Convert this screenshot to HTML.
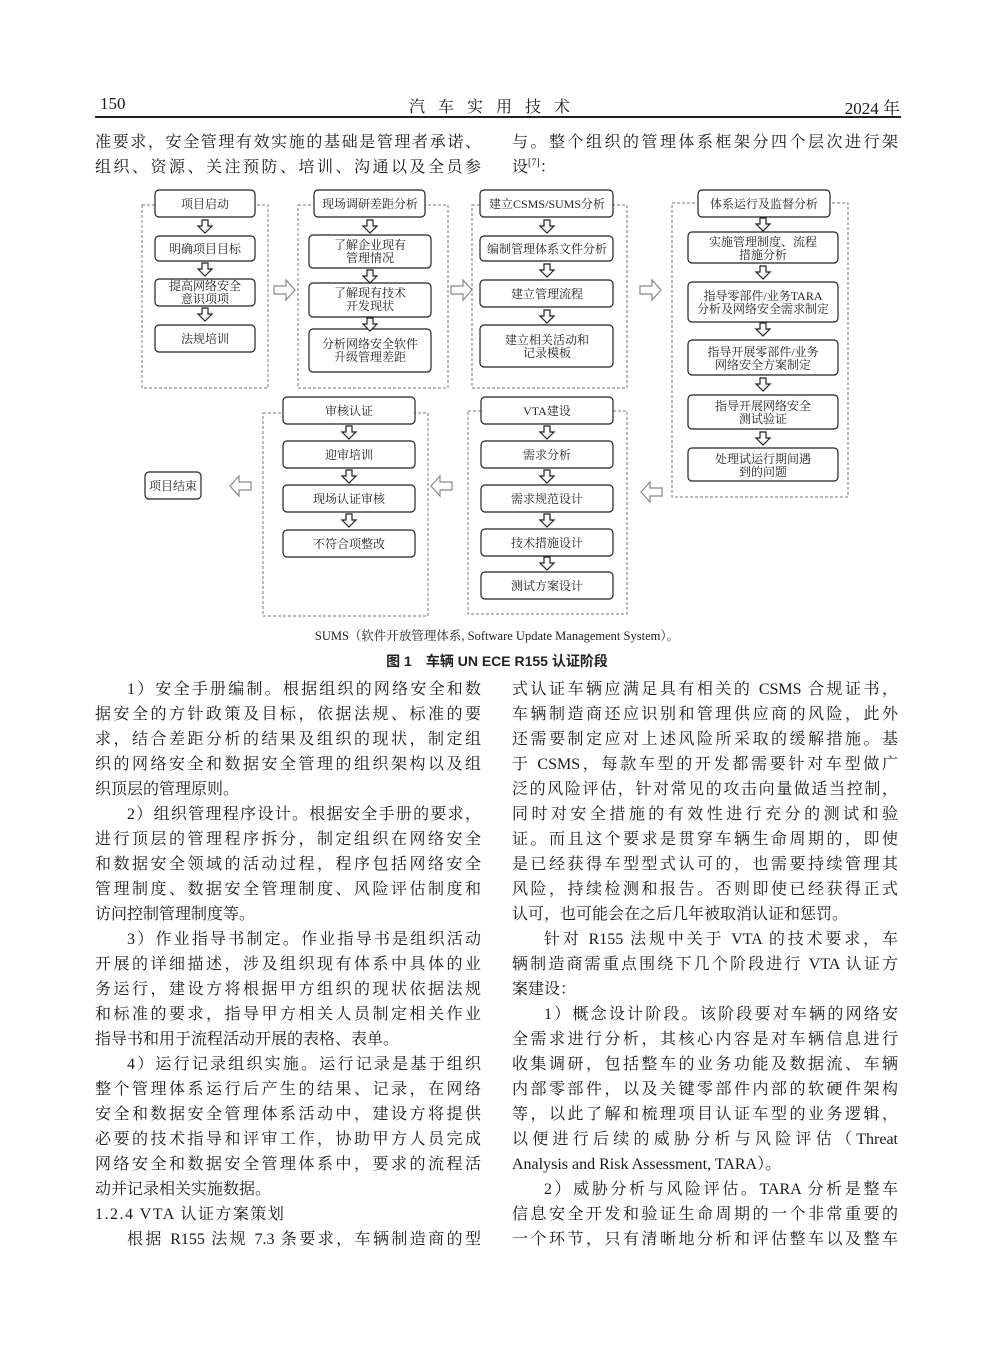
<!DOCTYPE html>
<html><head><meta charset="utf-8"><style>
body{margin:0;background:#fff;}
#p{position:relative;width:992px;height:1347px;overflow:hidden;font-family:"Liberation Serif","Noto Serif CJK SC",serif;color:#1a1a1a;}
.col{position:absolute;width:386px;font-size:16px;}
.col div{height:25px;line-height:25px;white-space:nowrap;text-align:justify;text-align-last:justify;}
.col div.l{text-align-last:left;}
.col div.i{padding-left:32px;}
.a{position:absolute;}
</style></head><body><div id="p">
<div class="a" style="left:100px;top:94px;font-size:17px;">150</div>
<div class="a" style="left:0;width:992px;top:94px;font-size:16px;text-align:center;letter-spacing:13px;">汽车实用技术</div>
<div class="a" style="left:820px;top:94px;font-size:17px;width:80px;text-align:right;">2024 年</div>
<div class="a" style="left:95px;top:116px;width:806px;height:1.5px;background:#222;"></div>

<div class="col" style="left:95px;top:130px;">
<div>准要求，安全管理有效实施的基础是管理者承诺、</div>
<div>组织、资源、关注预防、培训、沟通以及全员参</div>
</div>
<div class="col" style="left:512px;top:130px;">
<div>与。整个组织的管理体系框架分四个层次进行架</div>
<div class="l">设<sup style="font-size:10px;line-height:0">[7]</sup>：</div>
</div>

<svg class="a" style="left:0;top:0" width="992" height="680" font-family="Liberation Serif, Noto Serif CJK SC, serif" font-size="12" fill="#222">
<g fill="none" stroke="#777" stroke-dasharray="3,2" stroke-width="1">
<rect x="142" y="205" width="126" height="183"/>
<rect x="298" y="205" width="150" height="183"/>
<rect x="472" y="205" width="155" height="183"/>
<rect x="672" y="203" width="176" height="294"/>
<rect x="263" y="413" width="165" height="203"/>
<rect x="468" y="411" width="159" height="203"/>
</g>
<g fill="#fff" stroke="#222" stroke-width="1.2">
<rect x="155" y="190" width="100" height="27" rx="4"/>
<rect x="155" y="236" width="100" height="25" rx="4"/>
<rect x="155" y="279" width="100" height="27" rx="4"/>
<rect x="155" y="325" width="100" height="27" rx="4"/>
<rect x="314" y="190" width="111" height="27" rx="4"/>
<rect x="309" y="235" width="122" height="33" rx="4"/>
<rect x="309" y="283" width="122" height="34" rx="4"/>
<rect x="309" y="329" width="122" height="43" rx="4"/>
<rect x="480" y="190" width="133" height="27" rx="4"/>
<rect x="480" y="236" width="133" height="25" rx="4"/>
<rect x="480" y="280" width="133" height="27" rx="4"/>
<rect x="480" y="325" width="133" height="42" rx="4"/>
<rect x="698" y="190" width="132" height="27" rx="4"/>
<rect x="688" y="232" width="150" height="31" rx="4"/>
<rect x="688" y="282" width="150" height="40" rx="4"/>
<rect x="688" y="340" width="150" height="35" rx="4"/>
<rect x="688" y="395" width="150" height="34" rx="4"/>
<rect x="688" y="448" width="150" height="33" rx="4"/>
<rect x="283" y="397" width="132" height="27" rx="4"/>
<rect x="283" y="441" width="132" height="27" rx="4"/>
<rect x="283" y="485" width="132" height="27" rx="4"/>
<rect x="283" y="530" width="132" height="27" rx="4"/>
<rect x="481" y="397" width="132" height="27" rx="4"/>
<rect x="481" y="441" width="132" height="27" rx="4"/>
<rect x="481" y="485" width="132" height="27" rx="4"/>
<rect x="481" y="529" width="132" height="27" rx="4"/>
<rect x="481" y="572" width="132" height="27" rx="4"/>
<rect x="145" y="472" width="56" height="27" rx="4"/>
</g>
<g text-anchor="middle" stroke="none">
<text x="205" y="208">项目启动</text>
<text x="205" y="253">明确项目目标</text>
<text x="205" y="290">提高网络安全</text><text x="205" y="303">意识项项</text>
<text x="205" y="343">法规培训</text>
<text x="370" y="208">现场调研差距分析</text>
<text x="370" y="249">了解企业现有</text><text x="370" y="262">管理情况</text>
<text x="370" y="297">了解现有技术</text><text x="370" y="310">开发现状</text>
<text x="370" y="348">分析网络安全软件</text><text x="370" y="361">升级管理差距</text>
<text x="547" y="208">建立CSMS/SUMS分析</text>
<text x="547" y="253">编制管理体系文件分析</text>
<text x="547" y="298">建立管理流程</text>
<text x="547" y="344">建立相关活动和</text><text x="547" y="357">记录模板</text>
<text x="764" y="208">体系运行及监督分析</text>
<text x="763" y="246">实施管理制度、流程</text><text x="763" y="259">措施分析</text>
<text x="763" y="300">指导零部件/业务TARA</text><text x="763" y="313">分析及网络安全需求制定</text>
<text x="763" y="356">指导开展零部件/业务</text><text x="763" y="369">网络安全方案制定</text>
<text x="763" y="410">指导开展网络安全</text><text x="763" y="423">测试验证</text>
<text x="763" y="463">处理试运行期间遇</text><text x="763" y="476">到的问题</text>
<text x="349" y="415">审核认证</text>
<text x="349" y="459">迎审培训</text>
<text x="349" y="503">现场认证审核</text>
<text x="349" y="548">不符合项整改</text>
<text x="547" y="415">VTA建设</text>
<text x="547" y="459">需求分析</text>
<text x="547" y="503">需求规范设计</text>
<text x="547" y="547">技术措施设计</text>
<text x="547" y="590">测试方案设计</text>
<text x="173" y="490">项目结束</text>
</g>
<g fill="#fff" stroke="#222" stroke-width="1.2">
<path id="d" d="M-3 0h6v6h4l-7 7l-7-7h4z" transform="translate(205,220)"/>
<use href="#d" transform="translate(0,43)"/>
<use href="#d" transform="translate(0,88)"/>
<use href="#d" transform="translate(165,0)"/>
<use href="#d" transform="translate(165,50)"/>
<use href="#d" transform="translate(165,98)"/>
<use href="#d" transform="translate(342,0)"/>
<use href="#d" transform="translate(342,44)"/>
<use href="#d" transform="translate(342,90)"/>
<use href="#d" transform="translate(558,-2)"/>
<use href="#d" transform="translate(558,46)"/>
<use href="#d" transform="translate(558,103)"/>
<use href="#d" transform="translate(558,158)"/>
<use href="#d" transform="translate(558,212)"/>
<use href="#d" transform="translate(144,206)"/>
<use href="#d" transform="translate(144,250)"/>
<use href="#d" transform="translate(144,294)"/>
<use href="#d" transform="translate(342,206)"/>
<use href="#d" transform="translate(342,250)"/>
<use href="#d" transform="translate(342,294)"/>
<use href="#d" transform="translate(342,337)"/>
</g>
<g fill="#fff" stroke="#888" stroke-width="1.2">
<path d="M274 286h12v-6l9 10l-9 10v-6h-12z"/>
<path d="M451 286h12v-6l9 10l-9 10v-6h-12z"/>
<path d="M640 286h12v-6l9 10l-9 10v-6h-12z"/>
<path d="M662 488h-12v-6l-9 10l9 10v-6h12z"/>
<path d="M452 482h-12v-6l-9 10l9 10v-6h12z"/>
<path d="M251 482h-12v-6l-9 10l9 10v-6h12z"/>
</g>
<text x="497" y="640" text-anchor="middle" font-size="12.5">SUMS（软件开放管理体系, Software Update Management System）。</text>
<text x="497" y="666" text-anchor="middle" font-size="14" font-weight="bold" font-family="Liberation Sans, Noto Sans CJK SC, sans-serif">图 1　车辆 UN ECE R155 认证阶段</text>
</svg>

<div class="col" style="left:95px;top:677px;">
<div class="i">1）安全手册编制。根据组织的网络安全和数</div>
<div>据安全的方针政策及目标，依据法规、标准的要</div>
<div>求，结合差距分析的结果及组织的现状，制定组</div>
<div>织的网络安全和数据安全管理的组织架构以及组</div>
<div class="l">织顶层的管理原则。</div>
<div class="i">2）组织管理程序设计。根据安全手册的要求，</div>
<div>进行顶层的管理程序拆分，制定组织在网络安全</div>
<div>和数据安全领域的活动过程，程序包括网络安全</div>
<div>管理制度、数据安全管理制度、风险评估制度和</div>
<div class="l">访问控制管理制度等。</div>
<div class="i">3）作业指导书制定。作业指导书是组织活动</div>
<div>开展的详细描述，涉及组织现有体系中具体的业</div>
<div>务运行，建设方将根据甲方组织的现状依据法规</div>
<div>和标准的要求，指导甲方相关人员制定相关作业</div>
<div class="l">指导书和用于流程活动开展的表格、表单。</div>
<div class="i">4）运行记录组织实施。运行记录是基于组织</div>
<div>整个管理体系运行后产生的结果、记录，在网络</div>
<div>安全和数据安全管理体系活动中，建设方将提供</div>
<div>必要的技术指导和评审工作，协助甲方人员完成</div>
<div>网络安全和数据安全管理体系中，要求的流程活</div>
<div class="l">动并记录相关实施数据。</div>
<div class="l" style="font-size:16px;letter-spacing:1.5px">1.2.4 VTA 认证方案策划</div>
<div class="i">根据 R155 法规 7.3 条要求，车辆制造商的型</div>
</div>

<div class="col" style="left:512px;top:677px;">
<div>式认证车辆应满足具有相关的 CSMS 合规证书，</div>
<div>车辆制造商还应识别和管理供应商的风险，此外</div>
<div>还需要制定应对上述风险所采取的缓解措施。基</div>
<div>于 CSMS，每款车型的开发都需要针对车型做广</div>
<div>泛的风险评估，针对常见的攻击向量做适当控制，</div>
<div>同时对安全措施的有效性进行充分的测试和验</div>
<div>证。而且这个要求是贯穿车辆生命周期的，即使</div>
<div>是已经获得车型型式认可的，也需要持续管理其</div>
<div>风险，持续检测和报告。否则即使已经获得正式</div>
<div class="l">认可，也可能会在之后几年被取消认证和惩罚。</div>
<div class="i">针对 R155 法规中关于 VTA 的技术要求，车</div>
<div>辆制造商需重点围绕下几个阶段进行 VTA 认证方</div>
<div class="l">案建设：</div>
<div class="i">1）概念设计阶段。该阶段要对车辆的网络安</div>
<div>全需求进行分析，其核心内容是对车辆信息进行</div>
<div>收集调研，包括整车的业务功能及数据流、车辆</div>
<div>内部零部件，以及关键零部件内部的软硬件架构</div>
<div>等，以此了解和梳理项目认证车型的业务逻辑，</div>
<div>以便进行后续的威胁分析与风险评估（Threat</div>
<div class="l">Analysis and Risk Assessment, TARA）。</div>
<div class="i">2）威胁分析与风险评估。TARA 分析是整车</div>
<div>信息安全开发和验证生命周期的一个非常重要的</div>
<div>一个环节，只有清晰地分析和评估整车以及整车</div>
</div>
</div></body></html>
